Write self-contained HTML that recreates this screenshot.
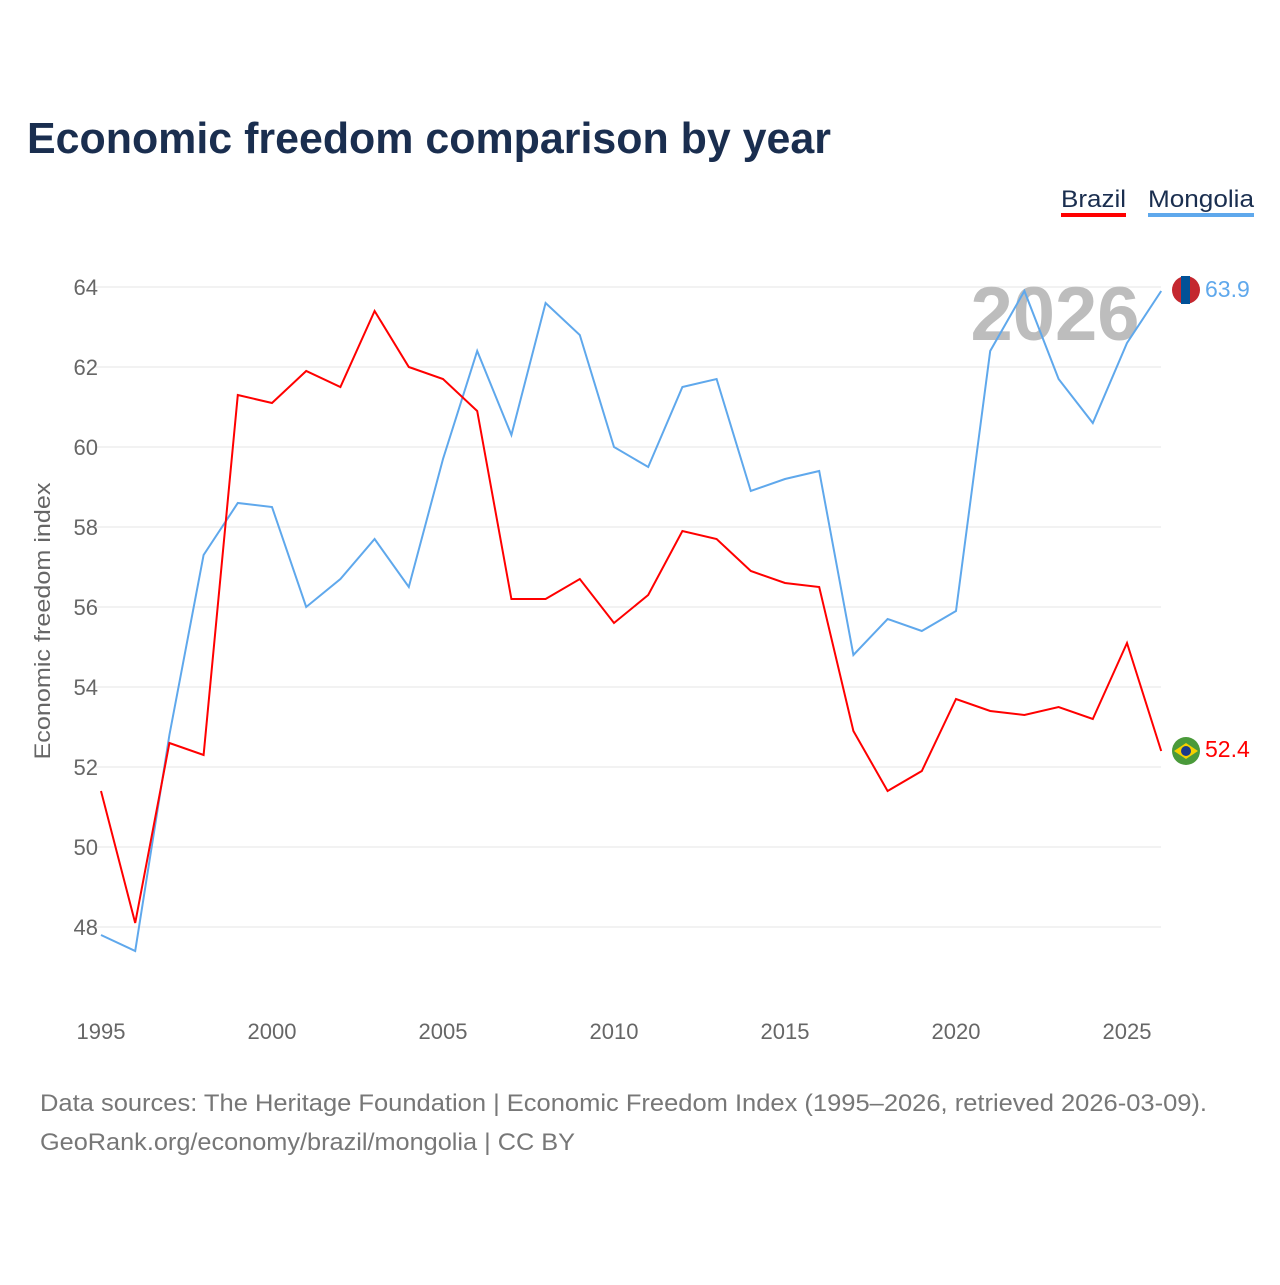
<!DOCTYPE html>
<html><head><meta charset="utf-8">
<style>
body{margin:0;background:#fff;font-family:"Liberation Sans",sans-serif;}
svg text{font-family:"Liberation Sans",sans-serif;}
</style></head>
<body>
<svg id="chart" width="1280" height="1280" viewBox="0 0 1280 1280">
<text x="27" y="153" font-size="44" font-weight="bold" fill="#1a2e4f" textLength="804" lengthAdjust="spacingAndGlyphs">Economic freedom comparison by year</text>
<g>
 <text x="1061" y="207" font-size="24" fill="#1a2e4f" textLength="65" lengthAdjust="spacingAndGlyphs">Brazil</text>
 <rect x="1061" y="213" width="65" height="4" fill="#ff0000"/>
 <text x="1148" y="207" font-size="24" fill="#1a2e4f" textLength="106" lengthAdjust="spacingAndGlyphs">Mongolia</text>
 <rect x="1148" y="213" width="106" height="4" fill="#5fa8ec"/>
</g>
<g id="grid"></g>
<g id="yticks"></g>
<g id="xticks"></g>
<text x="1055" y="340" font-size="76" font-weight="bold" fill="#bdbdbd" text-anchor="middle">2026</text>
<text transform="translate(50,621) rotate(-90)" font-size="22" fill="#666" text-anchor="middle" textLength="277" lengthAdjust="spacingAndGlyphs">Economic freedom index</text>
<g id="series"></g>
<text x="40" y="1111" font-size="24" fill="#777" textLength="1167" lengthAdjust="spacingAndGlyphs">Data sources: The Heritage Foundation | Economic Freedom Index (1995–2026, retrieved 2026-03-09).</text>
<text x="40" y="1150" font-size="24" fill="#777" textLength="535" lengthAdjust="spacingAndGlyphs">GeoRank.org/economy/brazil/mongolia | CC BY</text>
</svg>
<script>
const years=[1995,1996,1997,1998,1999,2000,2001,2002,2003,2004,2005,2006,2007,2008,2009,2010,2011,2012,2013,2014,2015,2016,2017,2018,2019,2020,2021,2022,2023,2024,2025,2026];
const brazil=[51.4,48.1,52.6,52.3,61.3,61.1,61.9,61.5,63.4,62.0,61.7,60.9,56.2,56.2,56.7,55.6,56.3,57.9,57.7,56.9,56.6,56.5,52.9,51.4,51.9,53.7,53.4,53.3,53.5,53.2,55.1,52.4];
const mongolia=[47.8,47.4,52.8,57.3,58.6,58.5,56.0,56.7,57.7,56.5,59.7,62.4,60.3,63.6,62.8,60.0,59.5,61.5,61.7,58.9,59.2,59.4,54.8,55.7,55.4,55.9,62.4,63.9,61.7,60.6,62.6,63.9];
const yTicks=[48,50,52,54,56,58,60,62,64];
const xTicks=[1995,2000,2005,2010,2015,2020,2025];
const NS="http://www.w3.org/2000/svg";
function X(y){return 101+(y-1995)*34.2;}
function Y(v){return 287+(64-v)*40;}
function mk(tag,attrs,parent){const e=document.createElementNS(NS,tag);for(const k in attrs)e.setAttribute(k,attrs[k]);parent.appendChild(e);return e;}
const grid=document.getElementById('grid'),yt=document.getElementById('yticks'),xt=document.getElementById('xticks'),ser=document.getElementById('series');
yTicks.forEach(v=>{
 const l=mk('line',{x1:95,x2:1161,y1:Y(v),y2:Y(v),stroke:'#e6e6e6','stroke-width':1},grid);
 
 
 const t=mk('text',{x:98,y:Y(v)+8,'font-size':22,fill:'#666','text-anchor':'end'},yt);
 t.textContent=v;
 
 
});
xTicks.forEach(v=>{
 const t=mk('text',{x:X(v),y:1039,'font-size':22,fill:'#666','text-anchor':'middle'},xt);
 t.textContent=v;
 
 
});
function line(vals,color,name){
 const p=mk('polyline',{points:vals.map((v,i)=>X(years[i])+','+Y(v)).join(' '),fill:'none',stroke:color,'stroke-width':2},ser);
 
 
}
line(mongolia,'#5fa8ec','line-mongolia');
line(brazil,'#ff0000','line-brazil');
function endLabel(vals,color,name,flag){
 const v=vals[vals.length-1],y=Y(v);
 const g=mk('g',{},ser);
 
 
 if(flag==='mn'){
  mk('circle',{cx:1186,cy:y-1,r:14,fill:'#c4272f'},g);
  mk('rect',{x:1181,y:y-15,width:9,height:28,fill:'#015197'},g);
 }else{
  mk('circle',{cx:1186,cy:y,r:14,fill:'#4a9a3a'},g);
  mk('polygon',{points:`1174,${y} 1186,${y-8} 1198,${y} 1186,${y+8}`,fill:'#f5d000'},g);
  mk('circle',{cx:1186,cy:y,r:5,fill:'#1a3a8a'},g);
 }
 const t=mk('text',{x:1205,y:y+6,'font-size':23,fill:color},g);
 t.textContent=v.toFixed(1);
}
endLabel(mongolia,'#5fa8ec','end-label-mongolia','mn');
endLabel(brazil,'#ff0000','end-label-brazil','br');
</script>
</body></html>
